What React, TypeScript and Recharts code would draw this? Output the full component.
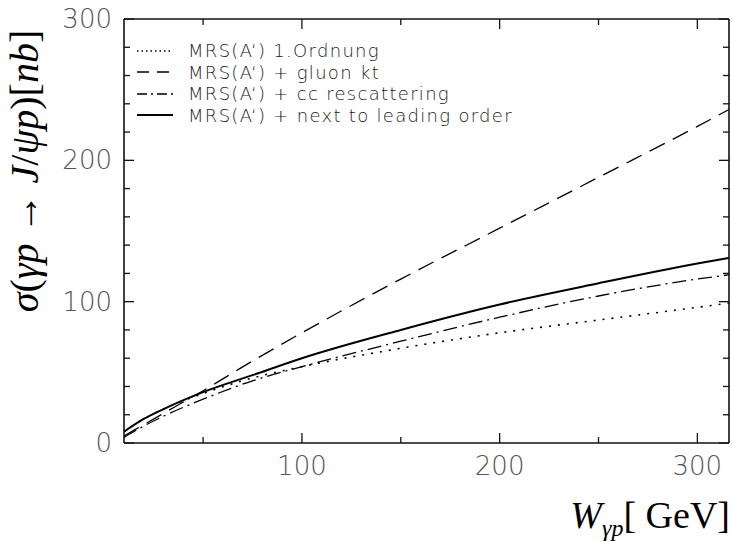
import React from 'react';
import { LineChart, Line, XAxis, YAxis, Legend } from 'recharts';

// W_gamma p in GeV
const W = [10, 20, 30, 50, 75, 100, 150, 200, 250, 300, 316];
// cross sections in nb
const LO = [8, 17, 24, 35, 46, 54, 67, 78, 87, 96, 99];
const KT = [5, 13, 21, 37, 58, 78, 116, 152, 188, 224, 236];
const CC = [4, 12, 19, 31, 44, 54, 72, 89, 104, 116, 119];
const NLO = [8, 17, 24, 36, 48, 60, 80, 98, 113, 127, 131];

const X_TICKS = [50, 100, 150, 200, 250, 300];
const Y_TICKS = [0, 20, 40, 60, 80, 100, 120, 140, 160, 180, 200, 220, 240, 260, 280, 300];

const SERIES = [
  { key: 'lo', name: 'MRS(A‘) 1.Ordnung', dash: '2 7', legendDash: '1.5 3', width: 1.6 },
  { key: 'kt', name: 'MRS(A‘) + gluon kt', dash: '17 9', legendDash: '12 8', width: 1.3 },
  { key: 'cc', name: 'MRS(A‘) + cc rescattering', dash: '14 5 2 5', legendDash: '10 4 2 4', width: 1.3 },
  { key: 'nlo', name: 'MRS(A‘) + next to leading order', dash: undefined, legendDash: undefined, width: 2 },
];

const data = W.map((w, i) => ({ w, lo: LO[i], kt: KT[i], cc: CC[i], nlo: NLO[i] }));

const TICK_FONT = "'DejaVu Sans', sans-serif";
const SERIF = "'Liberation Serif', 'DejaVu Serif', serif";

function BottomTick({ x, y, payload }: any) {
  const major = payload.value % 100 === 0;
  return (
    <g>
      <line x1={x} x2={x} y1={y} y2={y - (major ? 10 : 6)} stroke="#111" strokeWidth={1.3} />
      {major && (
        <text x={x} y={y + 32} textAnchor="middle" fontSize={26} fontFamily={TICK_FONT} fontWeight={300} fill="#555">
          {payload.value}
        </text>
      )}
    </g>
  );
}

function TopTick({ x, y, payload }: any) {
  const major = payload.value % 100 === 0;
  return <line x1={x} x2={x} y1={y} y2={y + (major ? 10 : 6)} stroke="#111" strokeWidth={1.3} />;
}

function LeftTick({ x, y, payload }: any) {
  const major = payload.value % 100 === 0;
  return (
    <g>
      <line x1={x} x2={x + (major ? 10 : 6)} y1={y} y2={y} stroke="#111" strokeWidth={1.3} />
      {major && (
        <text x={x - 12} y={y + 9} textAnchor="end" fontSize={26} fontFamily={TICK_FONT} fontWeight={300} fill="#555">
          {payload.value}
        </text>
      )}
    </g>
  );
}

function RightTick({ x, y, payload }: any) {
  const major = payload.value % 100 === 0;
  return <line x1={x} x2={x - (major ? 10 : 6)} y1={y} y2={y} stroke="#111" strokeWidth={1.3} />;
}

function YTitle() {
  return (
    <text x={0} y={0} transform="translate(38,171) rotate(-90)" textAnchor="middle" fontSize={40} fontFamily={SERIF} fill="#000">
      <tspan fontStyle="italic">σ</tspan>(<tspan fontStyle="italic">γp</tspan> → <tspan fontStyle="italic">J</tspan>/<tspan fontStyle="italic">ψp</tspan>)[<tspan fontStyle="italic">nb</tspan>]
    </text>
  );
}

function XTitle() {
  return (
    <text x={730} y={528} textAnchor="end" fontSize={38} fontFamily={SERIF} fill="#000">
      <tspan fontStyle="italic">W</tspan>
      <tspan fontStyle="italic" fontSize={24} dy={8}>γp</tspan>
      <tspan dy={-8}>[ GeV]</tspan>
    </text>
  );
}

function LegendBox() {
  return (
    <div style={{ fontFamily: TICK_FONT, fontSize: 18, fontWeight: 300, letterSpacing: 1.3, color: '#222' }}>
      {SERIES.map(s => (
        <div key={s.key} style={{ display: 'flex', alignItems: 'center', height: 21.5, whiteSpace: 'nowrap' }}>
          <svg width={36} height={10} style={{ marginRight: 15 }}>
            <line x1={0} x2={36} y1={5} y2={5} stroke="#000" strokeWidth={s.width} strokeDasharray={s.legendDash} />
          </svg>
          <span>{s.name}</span>
        </div>
      ))}
    </div>
  );
}

export default function App() {
  return (
    <div style={{ position: 'absolute', left: 0, top: 0, background: '#fff' }}>
      <LineChart width={732} height={542} data={data} margin={{ top: 18, right: 2, bottom: 98, left: 123 }}>
        <XAxis
          xAxisId="b"
          dataKey="w"
          type="number"
          domain={[10, 316]}
          allowDataOverflow
          ticks={X_TICKS}
          height={1}
          tickSize={0}
          tickMargin={0}
          tickLine={false}
          axisLine={{ stroke: '#111', strokeWidth: 1.6 }}
          tick={<BottomTick />}
          label={<XTitle />}
        />
        <XAxis
          xAxisId="t"
          orientation="top"
          dataKey="w"
          type="number"
          domain={[10, 316]}
          allowDataOverflow
          ticks={X_TICKS}
          height={1}
          tickSize={0}
          tickMargin={0}
          tickLine={false}
          axisLine={{ stroke: '#111', strokeWidth: 1.6 }}
          tick={<TopTick />}
        />
        <YAxis
          yAxisId="l"
          type="number"
          domain={[0, 300]}
          allowDataOverflow
          ticks={Y_TICKS}
          width={1}
          tickSize={0}
          tickMargin={0}
          tickLine={false}
          axisLine={{ stroke: '#111', strokeWidth: 1.6 }}
          tick={<LeftTick />}
          label={<YTitle />}
        />
        <YAxis
          yAxisId="r"
          orientation="right"
          type="number"
          domain={[0, 300]}
          allowDataOverflow
          ticks={Y_TICKS}
          width={1}
          tickSize={0}
          tickMargin={0}
          tickLine={false}
          axisLine={{ stroke: '#111', strokeWidth: 1.6 }}
          tick={<RightTick />}
        />
        <Legend
          layout="vertical"
          align="center"
          verticalAlign="middle"
          content={<LegendBox />}
          wrapperStyle={{ top: 40, left: 137, width: 420, height: 90 }}
        />
        {SERIES.map(s => (
          <Line
            key={s.key}
            xAxisId="b"
            yAxisId="l"
            dataKey={s.key}
            name={s.name}
            type="monotone"
            stroke="#000"
            strokeWidth={s.width}
            strokeDasharray={s.dash}
            dot={false}
            activeDot={false}
            isAnimationActive={false}
          />
        ))}
      </LineChart>
    </div>
  );
}
